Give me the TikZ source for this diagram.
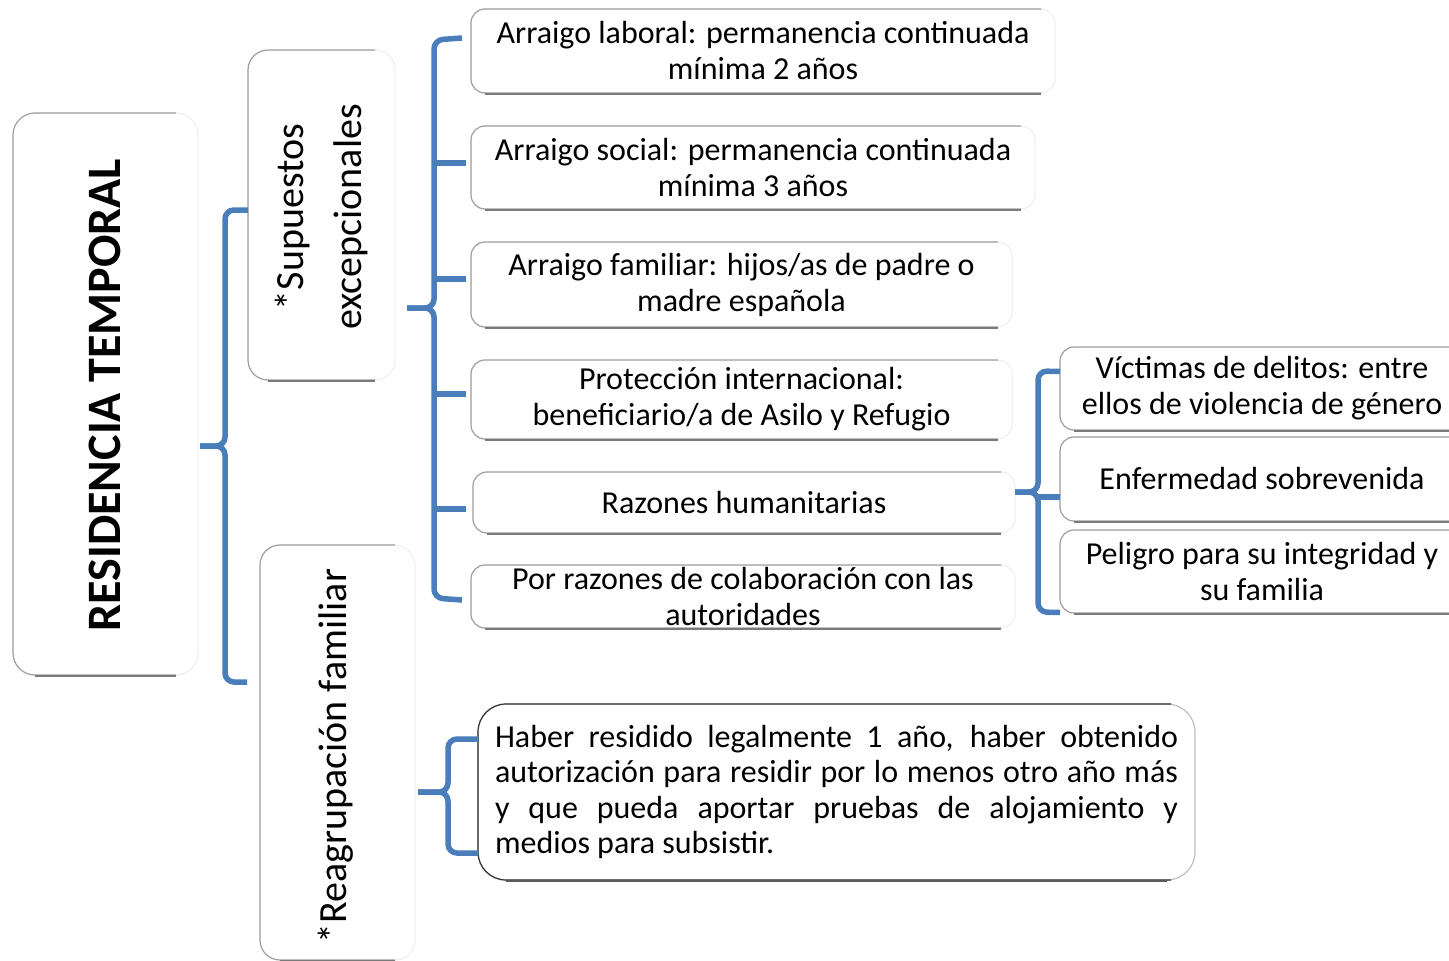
\documentclass[tikz,border=0pt]{standalone}
\usepackage{fontspec}
\setmainfont{Carlito}
\usetikzlibrary{calc}
\definecolor{brblue}{HTML}{4A7EBB}
\definecolor{edgegray}{HTML}{A0A0A0}
\definecolor{shadowgray}{HTML}{7A7A7A}
\newcommand\openedge[2][14]{%
  \draw[black!7, line width=1pt, rounded corners=#1pt] (#2.north west) rectangle (#2.south east);
  \draw[edgegray, line width=1.2pt, rounded corners=#1pt] ([xshift=-#1pt]#2.north east) -- (#2.north west) -- (#2.south west) -- ([xshift=-#1pt]#2.south east);
  \draw[shadowgray, line width=2.6pt] ([xshift=#1pt, yshift=-1pt]#2.south west) -- ([xshift=-#1pt, yshift=-1pt]#2.south east);}
\begin{document}
\begin{tikzpicture}[x=1pt, y=-1pt,
  every node/.style={inner sep=0pt, outer sep=0pt},
  box/.style={rectangle, anchor=north west},
  txt/.style={font=\fontsize{32}{36}\selectfont, align=center},
  sidetxt/.style={font=\fontsize{40}{58}\selectfont, align=center, rotate=90},
  roottxt/.style={font=\fontsize{48}{56}\selectfont\bfseries, rotate=90},
  br/.style={brblue, line width=5.5pt, rounded corners=9pt}]
\useasboundingbox (0,0) rectangle (1449,961);

% boxes
\node[box, minimum width=185, minimum height=562] (root) at (13,113) {};
\node[box, minimum width=147, minimum height=330] (sup) at (248,50) {};
\node[box, minimum width=155, minimum height=415] (reag) at (260,545) {};
\node[box, minimum width=584, minimum height=84, txt] (b1) at (471,9) {Arraigo laboral: permanencia continuada\\mínima 2 años};
\node[box, minimum width=564, minimum height=83, txt] (b2) at (471,126) {Arraigo social: permanencia continuada\\mínima 3 años};
\node[box, minimum width=541, minimum height=85, txt] (b3) at (471,242) {Arraigo familiar: hijos/as de padre o\\madre española};
\node[box, minimum width=541, minimum height=79, txt] (b4) at (471,360) {Protección internacional:\\beneficiario/a de Asilo y Refugio};
\node[box, minimum width=542, minimum height=61, txt] (b5) at (473,472) {Razones humanitarias};
\node[box, minimum width=544, minimum height=63, txt] (b6) at (471,565) {Por razones de colaboración con las\\autoridades};
\node[box, minimum width=404, minimum height=83, txt] (r1) at (1060,347) {Víctimas de delitos: entre\\ellos de violencia de género};
\node[box, minimum width=404, minimum height=84, txt] (r2) at (1060,437) {Enfermedad sobrevenida};
\node[box, minimum width=404, minimum height=83, txt] (r3) at (1060,530) {Peligro para su integridad y\\su familia};
\node[box, minimum width=717, minimum height=176] (bot) at (478,704) {};

% labels
\node[roottxt] (rootlabel) at (105,395) {RESIDENCIA TEMPORAL};
\node[sidetxt] (suplabel) at (322,217) {*Supuestos\\excepcionales};
\node[sidetxt] (reaglabel) at (336,756) {*Reagrupación familiar};
\node[font=\fontsize{32}{35.5}\selectfont, text width=683, align=justify] (botlabel) at (836.5,792)
 {Haber residido legalmente 1 año, haber obtenido\linebreak autorización para residir por lo menos otro año más\linebreak y que pueda aportar pruebas de alojamiento y\linebreak medios para subsistir.};

% edges of boxes
\openedge[22]{root}
\openedge[20]{sup}
\openedge[20]{reag}
\foreach \n in {b1,b2,b3,b4,b5,b6,r1,r2,r3}{\openedge[14]{\n}}
\draw[black!25, line width=1.2pt, rounded corners=28pt] (bot.north west) rectangle (bot.south east);
\draw[black!80, line width=1.2pt, rounded corners=28pt] ([xshift=-24pt]bot.north east) -- (bot.north west) -- (bot.south west) -- ([xshift=-24pt]bot.south east);
\draw[black!65, line width=2.4pt] ([xshift=28pt, yshift=-1pt]bot.south west) -- ([xshift=-28pt, yshift=-1pt]bot.south east);

% brace 1
\coordinate (tip1) at (200,446);
\draw[br] (sup.west |- 0,210) -- (225,210) -- (225,446) -- (tip1);
\draw[br] (247,682) -- (225,682) -- (225,446) -- (tip1);

% brace 2
\coordinate (tip2) at (407,308);
\draw[br] ([xshift=-9pt]b1.west |- 0,38) -- (434,40) -- (434,308) -- (tip2);
\draw[br] ([xshift=-9pt]b6.west |- 0,600) -- (434,598) -- (434,308) -- (tip2);
\foreach \n/\yy in {b2/163,b3/279,b4/394,b5/509}{\draw[brblue, line width=5.5pt] (434,\yy) -- (466,\yy);}

% brace 3
\coordinate (tip3) at (1015,492);
\draw[br] (r1.west) ++(0,-17) -- (1038,371) -- (1038,492) -- (tip3);
\draw[br] (r3.west) ++(0,41) -- (1038,612) -- (1038,492) -- (tip3);
\draw[brblue, line width=5.5pt] (1038,497) -- (r2.west |- 0,497);

% brace 4
\coordinate (tip4) at (418,792);
\draw[br] (bot.west |- 0,739) -- (448,739) -- (448,792) -- (tip4);
\draw[br] (bot.west |- 0,853) -- (448,853) -- (448,792) -- (tip4);
\end{tikzpicture}
\end{document}
